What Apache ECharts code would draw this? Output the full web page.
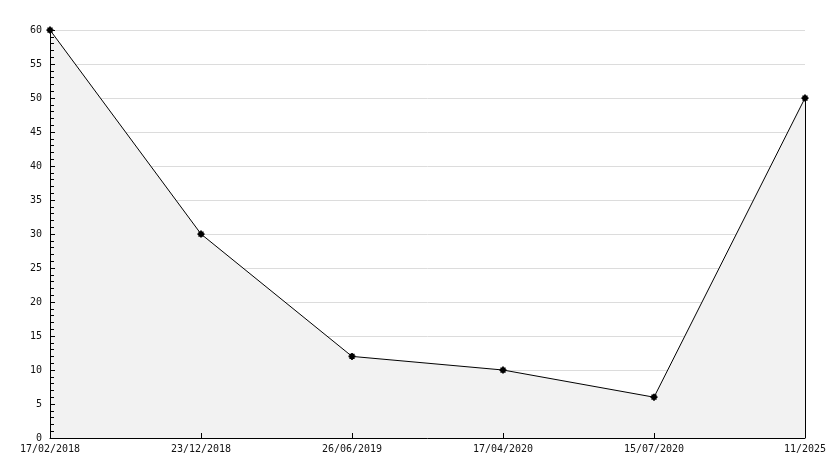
<!DOCTYPE html>
<html><head><meta charset="utf-8">
<script src="https://cdn.jsdelivr.net/npm/echarts@6/dist/echarts.min.js"></script>
<style>html,body{margin:0;padding:0;background:#fff}#c{width:834px;height:468px}</style>
</head><body><div id="c"></div>
<script>
const categories = ['17/02/2018','23/12/2018','26/06/2019','17/04/2020','15/07/2020','11/2025'];
const values = [60, 30, 12, 10, 6, 50];
const yTicks = {min: 0, max: 60, interval: 5};
const font = 'DejaVu Sans Mono';
const chart = echarts.init(document.getElementById('c'), null, {renderer: 'canvas'});
chart.setOption({
  animation: false,
  backgroundColor: '#fff',
  grid: {left: 50, right: 29, top: 30, bottom: 30, containLabel: false},
  xAxis: {
    type: 'category', data: categories, boundaryGap: false, z: 5,
    axisLine: {lineStyle: {color: '#000', width: 1}},
    axisTick: {inside: true, length: 5, lineStyle: {color: '#000'}, alignWithLabel: true},
    axisLabel: {color: '#111', fontFamily: font, fontSize: 10, margin: 6, interval: 0},
    splitLine: {show: false}
  },
  yAxis: [{
    type: 'value', min: yTicks.min, max: yTicks.max, interval: yTicks.interval,
    axisLine: {show: true, lineStyle: {color: '#000', width: 1}},
    axisTick: {show: false},
    axisLabel: {color: '#111', fontFamily: font, fontSize: 10, margin: 8},
    splitLine: {show: true, lineStyle: {color: '#dcdcdc', width: 1}}
  }, {
    type: 'value', position: 'left', offset: 0, z: 5,
    min: yTicks.min, max: yTicks.max, interval: yTicks.interval,
    axisLine: {show: true, lineStyle: {color: '#000', width: 1}},
    axisTick: {show: true, inside: true, length: 5, lineStyle: {color: '#000'}},
    minorTick: {show: true, splitNumber: 5, length: 4, lineStyle: {color: '#000'}},
    axisLabel: {show: false},
    splitLine: {show: false}
  }],
  series: [{
    type: 'line', data: values, yAxisIndex: 0,
    symbol: 'path://M3,0 L5,0 L5,3 L8,3 L8,5 L5,5 L5,8 L3,8 L3,5 L0,5 L0,3 L3,3 Z M1,1 L7,1 L7,7 L1,7 Z', symbolSize: 7,
    itemStyle: {color: '#000'},
    lineStyle: {color: '#000', width: 1},
    areaStyle: {color: '#f2f2f2', opacity: 1},
    markLine: {
      silent: true, symbol: 'none', label: {show: false},
      lineStyle: {color: '#000', width: 1, type: 'solid'},
      data: [[{coord: [categories.length - 1, values[values.length - 1]]}, {coord: [categories.length - 1, 0]}]]
    }
  }]
});
</script></body></html>
